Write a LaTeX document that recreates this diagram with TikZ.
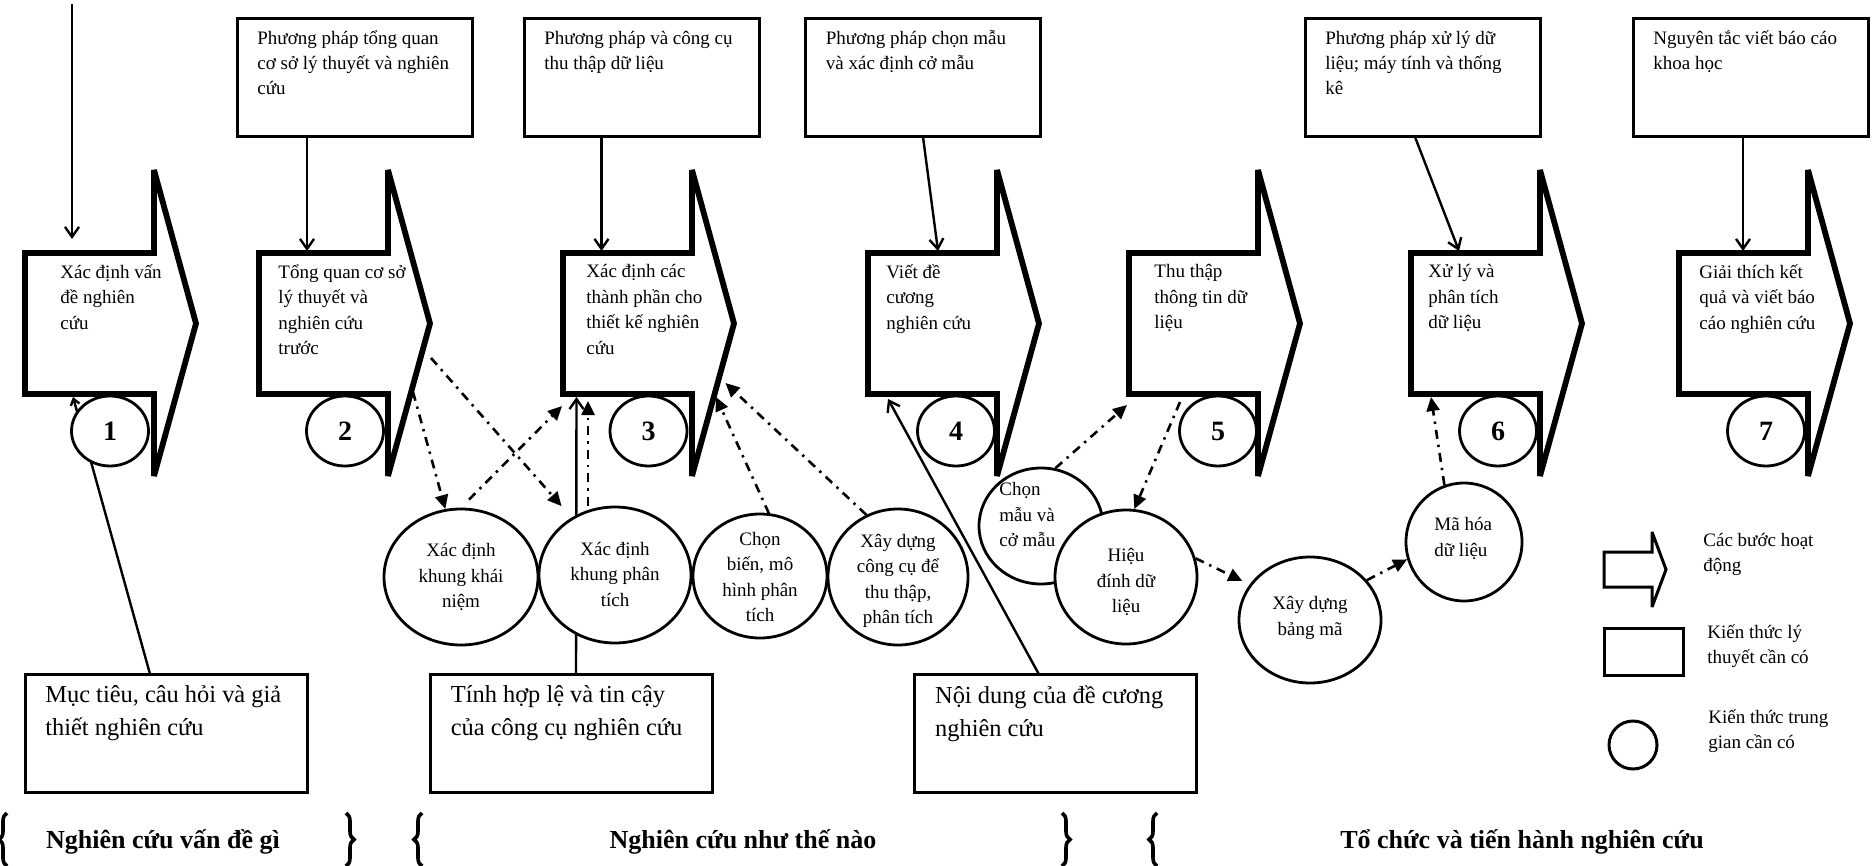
\documentclass[tikz,border=0pt]{standalone}
\usepackage{fontspec}
\setmainfont{Liberation Serif}
\usetikzlibrary{shapes.geometric,arrows.meta,calc,decorations.pathreplacing}
\pgfdeclarelayer{links}
\pgfdeclarelayer{front}
\pgfsetlayers{links,main,front}
\newcommand{\StepShape}[1]{%
  \begin{pgfonlayer}{front}
  \draw[stepline] (#1.south west) -- (#1.north west) -- (#1.north east)
     -- ($(#1.north east)+(0,-83)$) -- ($(#1.east)+(42,0)$)
     -- ($(#1.south east)+(0,82)$) -- (#1.south east) -- cycle;
  \end{pgfonlayer}}
\begin{document}
\begin{tikzpicture}[x=0.5pt,y=-0.5pt,
  stepbody/.style={draw=none,minimum width=64.5pt,minimum height=70.5pt,inner sep=0pt,outer sep=0pt},
  stepline/.style={line width=2.9pt,line join=miter,miter limit=2},
  numcirc/.style={ellipse,draw,line width=1.4pt,fill=white,minimum width=38.5pt,minimum height=35pt,inner sep=0pt,font=\fontsize{14}{16}\selectfont\bfseries},
  kcirc/.style={ellipse,draw,line width=1.4pt,fill=white,inner sep=0pt},
  ktext/.style={align=center,inner sep=0pt,font=\fontsize{9.5}{12.75}\selectfont},
  knowbox/.style={draw,line width=1.5pt,minimum width=117.5pt,minimum height=59pt,inner sep=0pt,outer sep=0pt},
  bigbox/.style={draw,line width=1.5pt,minimum width=141pt,minimum height=59pt,inner sep=0pt,outer sep=0pt},
  boxtext/.style={anchor=north west,align=left,inner sep=0pt,font=\fontsize{9.5}{12.5}\selectfont,execute at begin node=\strut},
  steptext/.style={anchor=north west,align=left,inner sep=0pt,font=\fontsize{9.5}{12.75}\selectfont,execute at begin node=\strut},
  bigtext/.style={anchor=north west,align=left,inner sep=0pt,font=\fontsize{12.2}{16.5}\selectfont,execute at begin node=\strut},
  grouplabel/.style={anchor=base,inner sep=0pt,font=\fontsize{13}{15}\selectfont\bfseries},
  link/.style={line width=1.2pt,-{Straight Barb[length=5pt,width=7pt]}},
  smalllink/.style={line width=1.2pt,-{Straight Barb[length=3pt,width=4.5pt]}},
  dlink/.style={line width=1.3pt,dash pattern=on 4.5pt off 3pt on 1.2pt off 3pt,-{Triangle[length=7pt,width=6.5pt]}},
  bracestyle/.style={decorate,decoration={brace,amplitude=4pt},line width=1.8pt}]
\useasboundingbox (0,0) rectangle (1872,866);

% ---------- step arrows ----------
\node[stepbody] (s1) at (89.5,323.5) {};
\node[stepbody] (s2) at (323.5,323.5) {};
\node[stepbody] (s3) at (627.5,323.5) {};
\node[stepbody] (s4) at (932.5,323.5) {};
\node[stepbody] (s5) at (1193.5,323.5) {};
\node[stepbody] (s6) at (1475.5,323.5) {};
\node[stepbody] (s7) at (1743.5,323.5) {};
\StepShape{s1}\StepShape{s2}\StepShape{s3}\StepShape{s4}\StepShape{s5}\StepShape{s6}\StepShape{s7}

\node[steptext] (t1) at ($(s1.north west)+(35,11)$) {Xác định vấn\\đề nghiên\\cứu};
\node[steptext] (t2) at ($(s2.north west)+(19,11)$) {Tổng quan cơ sở\\lý thuyết và\\nghiên cứu\\trước};
\node[steptext] (t3) at ($(s3.north west)+(23,11)$) {Xác định các\\thành phần cho\\thiết kế nghiên\\cứu};
\node[steptext] (t4) at ($(s4.north west)+(18,11)$) {Viết đề\\cương\\nghiên cứu};
\node[steptext] (t5) at ($(s5.north west)+(25,11)$) {Thu thập\\thông tin dữ\\liệu};
\node[steptext] (t6) at ($(s6.north west)+(17,11)$) {Xử lý và\\phân tích\\dữ liệu};
\node[steptext] (t7) at ($(s7.north west)+(20,11)$) {Giải thích kết\\quả và viết báo\\cáo nghiên cứu};

% ---------- number circles ----------
\node[numcirc] (c1) at (110,431) {1};
\node[numcirc] (c2) at (345,431) {2};
\node[numcirc] (c3) at (648.5,431) {3};
\node[numcirc] (c4) at (956,431) {4};
\node[numcirc] (c5) at (1218,431) {5};
\node[numcirc] (c6) at (1498,431) {6};
\node[numcirc] (c7) at (1766,431) {7};

% ---------- top knowledge boxes ----------
\node[knowbox] (bA) at (354.5,78) {};
\node[knowbox] (bB) at (641.5,78) {};
\node[knowbox] (bC) at (923,78) {};
\node[knowbox] (bD) at (1422.5,78) {};
\node[knowbox] (bE) at (1750.5,78) {};
\node[boxtext] (tA) at ($(bA.north west)+(20,11.5)$) {Phương pháp tổng quan\\cơ sở lý thuyết và nghiên\\cứu};
\node[boxtext] (tB) at ($(bB.north west)+(20,11.5)$) {Phương pháp và công cụ\\thu thập dữ liệu};
\node[boxtext] (tC) at ($(bC.north west)+(20,11.5)$) {Phương pháp chọn mẫu\\và xác định cở mẫu};
\node[boxtext] (tD) at ($(bD.north west)+(20,11.5)$) {Phương pháp xử lý dữ\\liệu; máy tính và thống\\kê};
\node[boxtext] (tE) at ($(bE.north west)+(20,11.5)$) {Nguyên tắc viết báo cáo\\khoa học};

% ---------- bottom boxes ----------
\node[bigbox] (m1) at (166,733) {};
\node[bigbox] (m2) at (571.5,733) {};
\node[bigbox] (m3) at (1055.75,733) {};
\node[bigtext] (u1) at ($(m1.north west)+(20,11)$) {Mục tiêu, câu hỏi và giả\\thiết nghiên cứu};
\node[bigtext] (u2) at ($(m2.north west)+(20,11)$) {Tính hợp lệ và tin cậy\\của công cụ nghiên cứu};
\node[bigtext] (u3) at ($(m3.north west)+(20,11)$) {Nội dung của đề cương\\nghiên cứu};

% ---------- intermediate knowledge ----------
\node[kcirc,minimum width=77pt,minimum height=68pt] (k1) at (461,577) {};
\node[kcirc,minimum width=76pt,minimum height=68pt] (k2) at (615,575) {};
\node[kcirc,minimum width=67pt,minimum height=62pt] (k3) at (760,576) {};
\node[kcirc,minimum width=70pt,minimum height=68pt] (k4) at (898,577) {};
\node[kcirc,minimum width=62pt,minimum height=58pt] (k5) at (1041,526) {};
\node[kcirc,minimum width=71pt,minimum height=67pt] (k6) at (1126,577) {};
\node[kcirc,minimum width=71pt,minimum height=63pt] (k7) at (1310,620) {};
\node[kcirc,minimum width=58pt,minimum height=59pt] (k8) at (1464,542) {};
\node[ktext] (k1t) at (k1) {Xác định\\khung khái\\niệm};
\node[ktext] (k2t) at ($(k2)+(0,-1)$) {Xác định\\khung phân\\tích};
\node[ktext] (k3t) at ($(k3)+(0,1)$) {Chọn\\biến, mô\\hình phân\\tích};
\node[ktext] (k4t) at ($(k4)+(0,4)$) {Xây dựng\\công cụ để\\thu thập,\\phân tích};
\node[steptext] (k5t) at (999,482) {Chọn\\mẫu và\\cở mẫu};
\node[ktext] (k6t) at ($(k6)+(0,5)$) {Hiệu\\đính dữ\\liệu};
\node[ktext] (k7t) at ($(k7)+(0,-2)$) {Xây dựng\\bảng mã};
\node[steptext] (k8t) at (1434,517) {Mã hóa\\dữ liệu};

% ---------- connectors ----------
\begin{pgfonlayer}{links}
\coordinate (topin) at (72,4);
\draw[link] (topin) -- ($(s1.north west)+(47,-14)$);
\draw[link] ($(bA.south west)+(70,0)$) -- ($(s2.north west)+(48,-2)$);
\draw[link] ($(bB.south west)+(77.5,0)$) -- ($(s3.north west)+(38.5,-2)$);
\draw[link] ($(bC.south west)+(117.5,0)$) -- ($(s4.north west)+(70,-2)$);
\draw[link] ($(bD.south west)+(110,0)$) -- ($(s6.north west)+(48,-2)$);
\draw[link] ($(bE.south west)+(110,0)$) -- ($(s7.north west)+(64,-2)$);
\draw[smalllink] ($(m1.north west)+(125,0)$) -- ($(s1.south west)+(48,3)$);
\draw[link] ($(m2.north west)+(145.5,0)$) -- ($(s3.south west)+(13.5,3)$);
\draw[link] ($(m3.north west)+(124,0)$) -- ($(s4.south west)+(20,5)$);

\draw[dlink] ($(s2.south east)+(25,-2)$) -- (k1.103);
\draw[dlink] ($(s2.south east)+(43,-36)$) -- ($(k2.128)+(-9,-12)$);
\draw[dlink] ($(k1.north)+(8,-8)$) -- ($(s3.south west)+(-1,12)$);
\draw[dlink] ($(k2.north)+(-27,0)$) -- ($(s3.south west)+(25,7)$);
\draw[dlink] ($(k3.north)+(9,1)$) -- ($(s3.south east)+(24,3)$);
\draw[dlink] (k4.117) -- ($(s3.south east)+(33.5,-11)$);
\draw[dlink] (k5.76) -- ($(s5.south west)+(-2,11)$);
\draw[dlink] ($(s5.south west)+(51,8)$) -- (k6.83);
\draw[dlink] (k6.15) -- ($(k7.150)+(-7,-4)$);
\draw[dlink] (k7.35) -- (k8.197);
\draw[dlink] (k8.109) -- ($(s6.south west)+(20,3)$);
\end{pgfonlayer}

% ---------- legend ----------
\node[draw=none,minimum width=24pt,minimum height=17.5pt,inner sep=0pt,outer sep=0pt] (lgA) at (1628,569.5) {};
\draw[line width=1.5pt,line join=miter,miter limit=2] (lgA.south west) -- (lgA.north west) -- (lgA.north east)
   -- ($(lgA.north east)+(0,-20)$) -- ($(lgA.east)+(14,0)$) -- ($(lgA.south east)+(0,20)$)
   -- (lgA.south east) -- cycle;
\node[draw,line width=1.5pt,minimum width=39.5pt,minimum height=23.5pt,inner sep=0pt,outer sep=0pt] (lgB) at (1643.5,651.5) {};
\node[draw,circle,line width=1.5pt,minimum size=24pt,inner sep=0pt] (lgC) at (1633,745) {};
\node[boxtext] (lgAt) at (1703,532.5) {Các bước hoạt\\động};
\node[boxtext] (lgBt) at (1707,624.5) {Kiến thức lý\\thuyết cần có};
\node[boxtext] (lgCt) at (1708,709.5) {Kiến thức trung\\gian cần có};

% ---------- group labels ----------
\draw[bracestyle] (7,866) -- (7,813);
\draw[bracestyle] (346,813) -- (346,866);
\draw[bracestyle] (422,866) -- (422,813);
\draw[bracestyle] (1062,813) -- (1062,866);
\draw[bracestyle] (1157,866) -- (1157,813);
\node[grouplabel] (g1) at (163,848) {Nghiên cứu vấn đề gì};
\node[grouplabel] (g2) at (743,848) {Nghiên cứu như thế nào};
\node[grouplabel] (g3) at (1522,848) {Tổ chức và tiến hành nghiên cứu};
\end{tikzpicture}
\end{document}
